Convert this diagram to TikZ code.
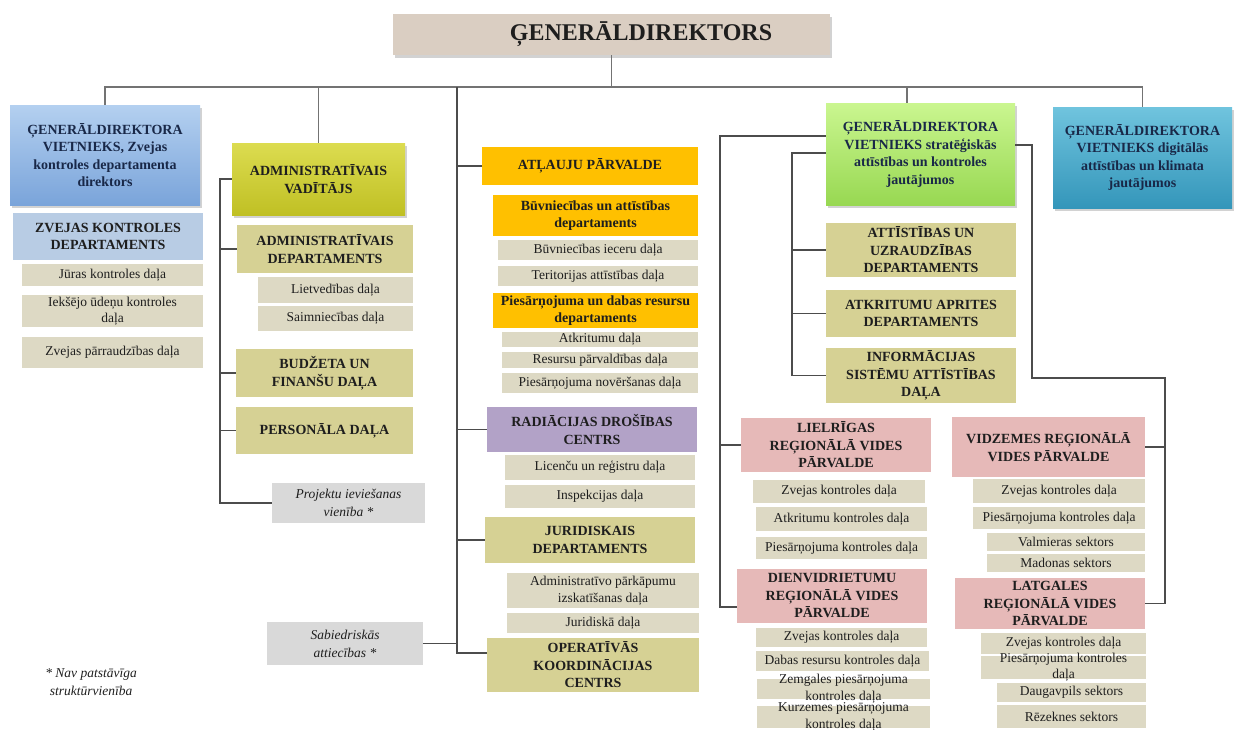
\documentclass[tikz,border=0pt]{standalone}
\usepackage{fontspec}
\setmainfont{Liberation Serif}
\usetikzlibrary{shadows}
\definecolor{titlebg}{RGB}{218,206,194}
\definecolor{bluetop}{RGB}{180,208,240}
\definecolor{bluebot}{RGB}{122,164,218}
\definecolor{ltblue}{RGB}{184,204,228}
\definecolor{sectbg}{RGB}{221,217,196}
\definecolor{deptbg}{RGB}{214,209,148}
\definecolor{ylwtop}{RGB}{220,220,80}
\definecolor{ylwbot}{RGB}{192,192,36}
\definecolor{amber}{RGB}{255,192,0}
\definecolor{lilac}{RGB}{178,162,199}
\definecolor{rose}{RGB}{230,185,184}
\definecolor{grntop}{RGB}{202,246,144}
\definecolor{grnbot}{RGB}{152,216,82}
\definecolor{tealtop}{RGB}{112,196,222}
\definecolor{tealbot}{RGB}{52,150,186}
\definecolor{auxbg}{RGB}{217,217,217}
\definecolor{ink}{RGB}{30,30,30}
\definecolor{navy}{RGB}{25,40,72}
\tikzset{link/.style={draw=black!70, line width=1.3pt}}
\tikzset{sz/.style 2 args={minimum width=#1, minimum height=#2}}
\tikzset{boxbase/.style={inner sep=1pt, align=center, text=ink}}
\tikzset{dept/.style={boxbase, fill=deptbg, font=\fontsize{14}{17.5}\selectfont\bfseries}}
\tikzset{sect/.style={boxbase, fill=sectbg, font=\fontsize{13.5}{16.5}\selectfont}}
\tikzset{aux/.style={boxbase, fill=auxbg, font=\fontsize{13.5}{18}\selectfont\itshape}}
\newcommand{\ovl}[1]{\smash{\raisebox{-0.25em}{\begin{tabular}{@{}c@{}}#1\end{tabular}}}}

\begin{document}
\begin{tikzpicture}
[x=1pt, y=-1pt,
 lift/.style={drop shadow={shadow xshift=1.5pt, shadow yshift=-3pt, fill=black!35}},
 chief/.style={boxbase, lift, fill=titlebg, font=\fontsize{24}{28}\selectfont\bfseries},
 deputy/.style={boxbase, lift, text=navy, font=\fontsize{14}{17.5}\selectfont\bfseries},
 bus/.style={link, draw=black!55}]
\useasboundingbox (0,0) rectangle (1240,729);

\node (gd) at (611.5,34.5)[chief, sz={437}{41}]{\hspace*{59pt}ĢENERĀLDIREKTORS};

\node (vz) at (105,155)[deputy, sz={190}{100}, top color=bluetop, bottom color=bluebot]{ĢENERĀLDIREKTORA\\ VIETNIEKS, Zvejas\\ kontroles departamenta\\ direktors};
\node (zkd) at (108,236.5)[dept, sz={190}{47}, fill=ltblue]{ZVEJAS KONTROLES\\ DEPARTAMENTS};
\node (jk) at (112.5,275)[sect, sz={181}{22}]{Jūras kontroles daļa};
\node (iu) at (112.5,311)[sect, sz={181}{32}]{Iekšējo ūdeņu kontroles\\ daļa};
\node (zp) at (112.5,352.5)[sect, sz={181}{31}]{Zvejas pārraudzības daļa};

\node (av) at (318.5,179)[deputy, text=ink, sz={173}{72}, top color=ylwtop, bottom color=ylwbot]{ADMINISTRATĪVAIS\\ VADĪTĀJS};
\node (ad) at (325,249)[dept, sz={176}{48}]{ADMINISTRATĪVAIS\\ DEPARTAMENTS};
\node (lv) at (335.5,290)[sect, sz={155}{26}]{Lietvedības daļa};
\node (sm) at (335.5,318.5)[sect, sz={155}{25}]{Saimniecības daļa};
\node (bf) at (324.5,373)[dept, sz={177}{48}]{BUDŽETA UN\\ FINANŠU DAĻA};
\node (pd) at (324.5,430.5)[dept, sz={177}{47}]{PERSONĀLA DAĻA};
\node (pi) at (348.5,503)[aux, sz={153}{40}]{Projektu ieviešanas\\ vienība *};
\node (sa) at (345,643.5)[aux, sz={156}{43}]{Sabiedriskās\\ attiecības *};
\node (fn) at (91,682)[align=center, text=ink, font=\fontsize{13.5}{18}\selectfont\itshape]{* Nav patstāvīga\\ struktūrvienība};

\node (al) at (590,166)[dept, sz={216}{38}, fill=amber]{ATĻAUJU PĀRVALDE};
\node (ba) at (595.5,215.5)[dept, sz={205}{41}, fill=amber]{Būvniecības un attīstības\\ departaments};
\node (bi) at (598,250)[sect, sz={200}{20}]{Būvniecības ieceru daļa};
\node (ta) at (598,276)[sect, sz={200}{20}]{Teritorijas attīstības daļa};
\node (pr) at (595.5,310.5)[dept, sz={205}{35}, fill=amber]{Piesārņojuma un dabas resursu\\ departaments};
\node (ak) at (600,339.5)[sect, sz={196}{15}]{Atkritumu daļa};
\node (rp) at (600,360)[sect, sz={196}{16}]{Resursu pārvaldības daļa};
\node (pn) at (600,383)[sect, sz={196}{20}]{Piesārņojuma novēršanas daļa};
\node (rd) at (592,429.5)[dept, sz={210}{45}, fill=lilac]{RADIĀCIJAS DROŠĪBAS\\ CENTRS};
\node (lc) at (600,467.5)[sect, sz={190}{25}]{Licenču un reģistru daļa};
\node (ip) at (600,496.5)[sect, sz={190}{23}]{Inspekcijas daļa};
\node (jd) at (590,540)[dept, sz={210}{46}]{JURIDISKAIS\\ DEPARTAMENTS};
\node (ap) at (603,590.5)[sect, sz={192}{35}]{Administratīvo pārkāpumu\\ izskatīšanas daļa};
\node (jr) at (603,623)[sect, sz={192}{20}]{Juridiskā daļa};
\node (ok) at (593,665)[dept, sz={212}{54}]{OPERATĪVĀS\\ KOORDINĀCIJAS\\ CENTRS};

\node (vs) at (920.5,154)[deputy, sz={189}{102}, top color=grntop, bottom color=grnbot]{ĢENERĀLDIREKTORA\\ VIETNIEKS stratēģiskās\\ attīstības un kontroles\\ jautājumos};
\node (vd) at (1142.5,157.5)[deputy, sz={179}{101}, top color=tealtop, bottom color=tealbot]{ĢENERĀLDIREKTORA\\ VIETNIEKS digitālās\\ attīstības un klimata\\ jautājumos};
\node (au) at (921,250)[dept, sz={190}{54}]{ATTĪSTĪBAS UN\\ UZRAUDZĪBAS\\ DEPARTAMENTS};
\node (aa) at (921,313.5)[dept, sz={190}{47}]{ATKRITUMU APRITES\\ DEPARTAMENTS};
\node (is) at (921,375.5)[dept, sz={190}{55}]{INFORMĀCIJAS\\ SISTĒMU ATTĪSTĪBAS\\ DAĻA};

\node (rig) at (836,445)[dept, sz={190}{54}, fill=rose]{LIELRĪGAS\\ REĢIONĀLĀ VIDES\\ PĀRVALDE};
\node (rz) at (839,491.5)[sect, sz={172}{23}]{Zvejas kontroles daļa};
\node (ra) at (841.5,519)[sect, sz={171}{24}]{Atkritumu kontroles daļa};
\node (rpk) at (841.5,548)[sect, sz={171}{22}]{Piesārņojuma kontroles daļa};
\node (dvr) at (832,596)[dept, sz={190}{54}, fill=rose]{DIENVIDRIETUMU\\ REĢIONĀLĀ VIDES\\ PĀRVALDE};
\node (dz) at (841.5,637.5)[sect, sz={171}{19}]{Zvejas kontroles daļa};
\node (dd) at (842.5,661)[sect, sz={173}{20}]{Dabas resursu kontroles daļa};
\node (dzg) at (843.5,689)[sect, sz={173}{20}]{\ovl{Zemgales piesārņojuma\\ kontroles daļa}};
\node (dkz) at (843.5,717)[sect, sz={173}{22}]{\ovl{Kurzemes piesārņojuma\\ kontroles daļa}};

\node (vdz) at (1048.5,447)[dept, sz={193}{60}, fill=rose]{VIDZEMES REĢIONĀLĀ\\ VIDES PĀRVALDE};
\node (vz1) at (1059,491)[sect, sz={172}{24}]{Zvejas kontroles daļa};
\node (vp1) at (1059,518)[sect, sz={172}{22}]{Piesārņojuma kontroles daļa};
\node (vm) at (1066,542)[sect, sz={158}{18}]{Valmieras sektors};
\node (md) at (1066,563)[sect, sz={158}{18}]{Madonas sektors};
\node (ltg) at (1050,603.5)[dept, sz={190}{51}, fill=rose]{LATGALES\\ REĢIONĀLĀ VIDES\\ PĀRVALDE};
\node (lz) at (1063.5,643.5)[sect, sz={165}{21}]{Zvejas kontroles daļa};
\node (lp) at (1063.5,667.5)[sect, sz={165}{23}]{\ovl{Piesārņojuma kontroles\\ daļa}};
\node (dg) at (1071.5,692.5)[sect, sz={149}{19}]{Daugavpils sektors};
\node (rzk) at (1071.5,716.5)[sect, sz={149}{23}]{Rēzeknes sektors};

\coordinate (b0) at (105,87);
\draw[bus] (vz.north) -- (vz.north |- b0) -- (vd.north |- b0) -- (vd.north);
\draw[bus] (gd.south) -- (gd.south |- b0);
\draw[bus] (av.north) -- (av.north |- b0);
\draw[bus] ([xshift=-13.5pt]vs.north) -- ([xshift=-13.5pt]vs.north |- b0);

\coordinate (a0) at (220,179);
\draw[link] (av.west) -- (a0) -- (a0 |- pi.west) -- (pi.west);
\draw[link] (a0 |- ad.west) -- (ad.west);
\draw[link] (a0 |- bf.west) -- (bf.west);
\draw[link] (a0 |- pd.west) -- (pd.west);

\coordinate (m0) at (457,87);
\coordinate (m1) at (457,653);
\draw[link] (m0) -- (m1) -- (m1 -| ok.west);
\draw[link] (m0 |- al.west) -- (al.west);
\draw[link] (m0 |- rd.west) -- (rd.west);
\draw[link] (m0 |- jd.west) -- (jd.west);
\draw[link] (sa.east) -- (sa.east -| m0);

\coordinate (r1) at (720,136);
\coordinate (r1e) at (720,607);
\draw[link] (r1 -| vs.west) -- (r1) -- (r1e) -- (r1e -| dvr.west);
\draw[link] (r1 |- rig.west) -- (rig.west);

\coordinate (r2) at (792,153);
\draw[link] (r2 -| vs.west) -- (r2) -- (r2 |- is.west) -- (is.west);
\draw[link] (r2 |- au.west) -- (au.west);
\draw[link] (r2 |- aa.west) -- (aa.west);

\coordinate (r3) at (1032,145);
\coordinate (r3b) at (1032,378);
\coordinate (r3c) at (1165,378);
\draw[link] (r3 -| vs.east) -- (r3) -- (r3b) -- (r3c) -- (r3c |- ltg.east) -- (ltg.east);
\draw[link] (r3c |- vdz.east) -- (vdz.east);
\end{tikzpicture}
\end{document}
